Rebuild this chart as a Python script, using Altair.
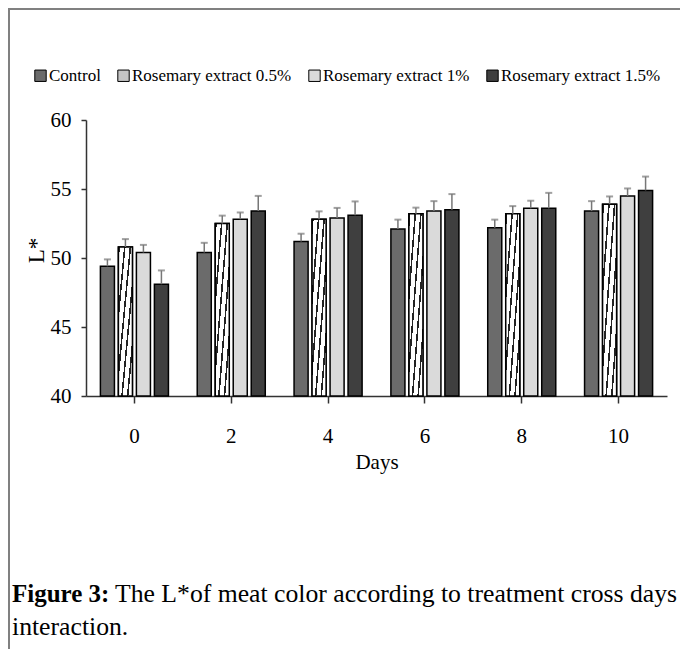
import altair as alt
import pandas as pd

days = ["0", "2", "4", "6", "8", "10"]
treatments = ["Control", "Rosemary extract 0.5%", "Rosemary extract 1%", "Rosemary extract 1.5%"]
control = [49.4, 50.4, 51.2, 52.1, 52.2, 53.4]
rose_05 = [50.8, 52.5, 52.8, 53.2, 53.2, 53.9]
rose_1 = [50.4, 52.8, 52.9, 53.4, 53.6, 54.5]
rose_15 = [48.1, 53.4, 53.1, 53.5, 53.6, 54.9]
control_se = [0.5, 0.7, 0.56, 0.68, 0.58, 0.72]
rose_05_se = [0.57, 0.57, 0.58, 0.45, 0.56, 0.56]
rose_1_se = [0.55, 0.5, 0.73, 0.72, 0.55, 0.54]
rose_15_se = [1.0, 1.1, 1.0, 1.13, 1.12, 1.0]

series = [control, rose_05, rose_1, rose_15]
errors = [control_se, rose_05_se, rose_1_se, rose_15_se]
rows = []
for t, vals, ses in zip(treatments, series, errors):
    for d, v, s in zip(days, vals, ses):
        rows.append({"Day": d, "Treatment": t, "Value": v, "SE": s})
df = pd.DataFrame(rows)

FONT = "Liberation Serif"
fills = ["#6b6b6b", "#c4c4c4", "#dadada", "#3f3f3f"]

# diagonal hatch for the 0.5% series
n = 5
stops = []
for k in range(n):
    s0 = k / n
    s1 = s0 + 0.28 / n
    stops += [alt.GradientStop(color="#222222", offset=s0),
              alt.GradientStop(color="#222222", offset=s1),
              alt.GradientStop(color="#ffffff", offset=s1),
              alt.GradientStop(color="#ffffff", offset=(k + 1) / n)]
hatch = alt.LinearGradient(gradient="linear", stops=stops, x1=0, y1=0, x2=1, y2=1)

x_enc = alt.X("Day:N", sort=days,
              scale=alt.Scale(domain=days, paddingInner=0, paddingOuter=0),
              axis=alt.Axis(title="Days", labelAngle=0, labelFont=FONT, labelFontSize=21,
                            labelColor="black", tickColor="#333", domainColor="#333",
                            domainWidth=1.5, tickWidth=1.5, tickSize=7, labelPadding=22,
                            titleFont=FONT, titleFontSize=21, titleFontWeight="normal",
                            titleColor="black", titlePadding=5, grid=False))
xo_enc = alt.XOffset("Treatment:N", sort=treatments,
                     scale=alt.Scale(domain=treatments, paddingInner=0.22, paddingOuter=0.8))
y_enc = alt.Y("Value:Q", scale=alt.Scale(domain=[40, 60], zero=False, nice=False),
              axis=alt.Axis(title="L*", values=[40, 45, 50, 55, 60], labelFont=FONT,
                            labelFontSize=21, labelColor="black", tickColor="#333",
                            domainColor="#333", domainWidth=1.5, tickWidth=1.5, tickSize=5,
                            labelPadding=10, titleFont=FONT, titleFontSize=23,
                            titleFontWeight="normal", titleColor="black",
                            titleX=-38, titleY=130, titleAngle=270, titleBaseline="bottom",
                            titleAlign="center", grid=False))

base = alt.Chart(df)

bars = base.mark_bar(stroke="black", strokeWidth=1.5).encode(
    x=x_enc, xOffset=xo_enc, y=y_enc, y2=alt.datum(40),
    color=alt.Color("Treatment:N", sort=treatments,
                    scale=alt.Scale(domain=treatments, range=fills),
                    legend=alt.Legend(orient="none", legendX=-54, legendY=-53,
                                      direction="horizontal", title=None,
                                      symbolType="square", symbolSize=130,
                                      symbolStrokeColor="black", symbolStrokeWidth=1,
                                      symbolOpacity=1, labelFont=FONT, labelFontSize=17,
                                      labelLimit=0, labelColor="black", columnPadding=14,
                                      labelOffset=0)),
)

hatched = base.transform_filter(alt.datum.Treatment == treatments[1]).mark_bar(
    color=hatch, stroke="black", strokeWidth=1.5).encode(
    x=x_enc, xOffset=xo_enc, y=y_enc, y2=alt.datum(40))

err = base.transform_calculate(Upper="datum.Value + datum.SE")
err_rule = err.mark_rule(color="#777", strokeWidth=1.5).encode(
    x=x_enc, xOffset=xo_enc, y=alt.Y("Value:Q"), y2="Upper:Q")
err_cap = err.mark_tick(color="#777", thickness=2, size=7).encode(
    x=x_enc, xOffset=xo_enc, y=alt.Y("Upper:Q"))

one = alt.Chart(pd.DataFrame({"k": [0]}))
top_border = one.mark_rule(color="#808080", strokeWidth=2).encode(
    x=alt.value(-78), x2=alt.value(594), y=alt.value(-111))
left_border = one.mark_rule(color="#808080", strokeWidth=2).encode(
    x=alt.value(-77), y=alt.value(-112), y2=alt.value(530))
cap_bold = one.mark_text(align="left", baseline="alphabetic", font=FONT, fontSize=25,
                         fontWeight="bold", color="black").encode(
    x=alt.value(-74), y=alt.value(482), text=alt.value("Figure 3:"))
cap_rest = one.mark_text(align="left", baseline="alphabetic", font=FONT, fontSize=25.7,
                         color="black").encode(
    x=alt.value(29), y=alt.value(482),
    text=alt.value("The L*of meat color according to treatment cross days"))
cap_line2 = one.mark_text(align="left", baseline="alphabetic", font=FONT, fontSize=25.7,
                          color="black").encode(
    x=alt.value(-74), y=alt.value(515), text=alt.value("interaction."))

chart = alt.layer(bars, hatched, err_rule, err_cap, top_border, left_border,
                  cap_bold, cap_rest, cap_line2).properties(
    width=581, height=276,
    autosize=alt.AutoSizeParams(type="none"),
    padding={"left": 78, "top": 112, "right": 14, "bottom": 253},
    background="white",
).configure_view(stroke=None).configure_axis(
    labelFont=FONT, titleFont=FONT
).configure_legend(labelFont=FONT)

chart.save("out.html", embed_options={"renderer": "svg", "actions": False})
